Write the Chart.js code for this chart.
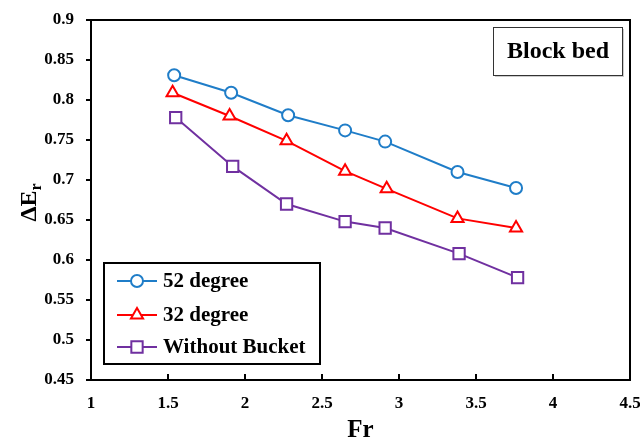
<!DOCTYPE html>
<html>
<head>
<meta charset="utf-8">
<script src="https://cdn.jsdelivr.net/npm/chart.js@4.4.1/dist/chart.umd.min.js"></script>
<style>
  body { margin: 0; background: #fff; }
  #wrap { width: 640px; height: 439px; }
</style>
</head>
<body>
<div id="wrap"><canvas id="chart"></canvas></div>
<script>
// data
const labels = ['52 degree', '32 degree', 'Without Bucket'];
const frBlue = [1.54, 1.91, 2.28, 2.65, 2.91, 3.38, 3.76];
const erBlue = [0.831, 0.809, 0.781, 0.762, 0.748, 0.710, 0.690];
const frRed = [1.53, 1.90, 2.27, 2.65, 2.92, 3.38, 3.76];
const erRed = [0.809, 0.780, 0.749, 0.711, 0.689, 0.652, 0.640];
const frPurple = [1.55, 1.92, 2.27, 2.65, 2.91, 3.39, 3.77];
const erPurple = [0.778, 0.717, 0.670, 0.648, 0.640, 0.608, 0.578];
const xTicks = [1, 1.5, 2, 2.5, 3, 3.5, 4, 4.5];

const colors = ['#1F7DC8', '#FF0000', '#7030A0'];
const shapes = ['circle', 'triangle', 'rect'];
const radii = [6, 7, 8];
const font = '"Liberation Serif", "Times New Roman", serif';

const pts = (xs, ys) => xs.map((x, i) => ({ x: x, y: ys[i] }));
const series = [pts(frBlue, erBlue), pts(frRed, erRed), pts(frPurple, erPurple)];

// frame, inward x ticks, y title, legend and label box
const extras = {
    id: 'extras',
    afterDraw(chart) {
        const ctx = chart.ctx;
        const a = chart.chartArea;
        const xs = chart.scales.x;
        ctx.save();
        ctx.strokeStyle = '#000';
        ctx.lineWidth = 2;
        ctx.strokeRect(a.left, a.top, a.right - a.left, a.bottom - a.top);
        ctx.beginPath();
        xTicks.forEach(v => {
            const px = xs.getPixelForValue(v);
            ctx.moveTo(px, a.bottom);
            ctx.lineTo(px, a.bottom - 6);
        });
        ctx.stroke();

        // y title
        ctx.save();
        ctx.translate(30, 202);
        ctx.rotate(-Math.PI / 2);
        ctx.fillStyle = '#000';
        ctx.textBaseline = 'middle';
        ctx.font = 'bold 24px ' + font;
        const w = ctx.measureText('\u0394E').width;
        ctx.textAlign = 'left';
        ctx.fillText('\u0394E', -w / 2 - 4, 0);
        ctx.font = 'bold 16px ' + font;
        ctx.fillText('r', w / 2 - 4, 7);
        ctx.restore();

        // legend
        ctx.strokeStyle = '#000';
        ctx.lineWidth = 2;
        ctx.strokeRect(104, 263, 216, 101);
        const rows = [281, 315, 347];
        labels.forEach((t, i) => {
            ctx.strokeStyle = colors[i];
            ctx.lineWidth = 2;
            ctx.beginPath();
            ctx.moveTo(117, rows[i]);
            ctx.lineTo(157, rows[i]);
            ctx.stroke();
            ctx.fillStyle = '#fff';
            Chart.helpers.drawPoint(ctx, {
                pointStyle: shapes[i], radius: radii[i], borderWidth: 2, rotation: 0
            }, 137, rows[i]);
            ctx.fillStyle = '#000';
            ctx.font = 'bold 21px ' + font;
            ctx.textAlign = 'left';
            ctx.textBaseline = 'middle';
            ctx.fillText(t, 163, rows[i] + 1);
        });

        // label box
        ctx.fillStyle = 'rgba(0,0,0,0.2)';
        ctx.fillRect(495, 29, 129, 48);
        ctx.fillStyle = '#fff';
        ctx.fillRect(493, 27, 129, 48);
        ctx.strokeStyle = '#333';
        ctx.lineWidth = 1;
        ctx.strokeRect(493.5, 27.5, 129, 48);
        ctx.fillStyle = '#000';
        ctx.font = 'bold 24px ' + font;
        ctx.textAlign = 'center';
        ctx.textBaseline = 'middle';
        ctx.fillText('Block bed', 558, 52);
        ctx.restore();
    }
};

const chart = document.querySelector('#chart').getContext('2d');

new Chart(chart, {
    type: 'scatter',
    data: {
        datasets: series.map((d, i) => ({
            label: labels[i],
            data: d,
            showLine: true,
            borderColor: colors[i],
            borderWidth: 2,
            pointStyle: shapes[i],
            pointRadius: radii[i],
            pointBorderWidth: 2,
            pointBackgroundColor: '#fff',
            pointBorderColor: colors[i]
        }))
    },
    options: {
        responsive: true,
        maintainAspectRatio: false,
        animation: false,
        layout: { padding: { top: 20, right: 9, left: 0, bottom: 0 } },
        plugins: { legend: { display: false }, tooltip: { enabled: false } },
        scales: {
            x: {
                type: 'linear',
                min: 1,
                max: 4.5,
                afterBuildTicks: s => { s.ticks = xTicks.map(v => ({ value: v })); },
                afterFit: s => { s.height = 59; s.paddingLeft = 0; s.paddingRight = 0; },
                grid: { display: false, drawTicks: false },
                border: { display: false },
                ticks: {
                    padding: 13,
                    maxRotation: 0,
                    autoSkip: false,
                    color: '#000',
                    font: { family: font, size: 17, weight: 'bold' },
                    callback: v => String(v)
                },
                title: {
                    display: true,
                    text: 'Fr',
                    color: '#000',
                    font: { family: font, size: 25, weight: 'bold' },
                    padding: { top: 4, bottom: -7 }
                }
            },
            y: {
                min: 0.45,
                max: 0.9,
                afterFit: s => { s.width = 91; s.paddingTop = 0; s.paddingBottom = 0; },
                ticks: {
                    stepSize: 0.05,
                    padding: 12,
                    color: '#000',
                    font: { family: font, size: 17, weight: 'bold' },
                    callback: v => String(Math.round(v * 100) / 100)
                },
                grid: { drawOnChartArea: false, tickLength: 5, color: '#000', lineWidth: 2 },
                border: { display: false }
            }
        }
    },
    plugins: [extras]
});
</script>
</body>
</html>
